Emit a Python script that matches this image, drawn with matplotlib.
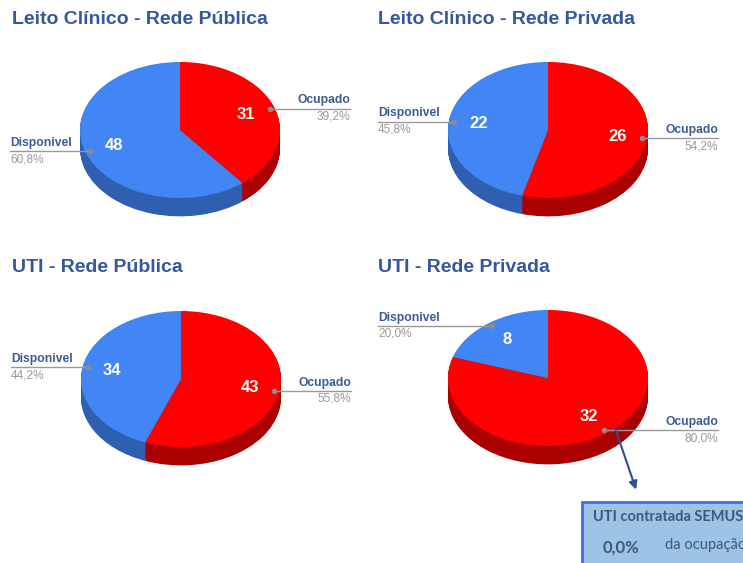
import numpy as np
import matplotlib
matplotlib.use("Agg")
import matplotlib.pyplot as plt
from matplotlib.patches import Rectangle

# data
titles = ["Leito Clínico - Rede Pública", "Leito Clínico - Rede Privada",
          "UTI - Rede Pública", "UTI - Rede Privada"]
categories = ["Ocupado", "Disponivel"]
ocupado = [31, 26, 43, 32]
disponivel = [48, 22, 34, 8]

top_colors = ["#ff0000", "#4285f4"]
side_colors = ["#ab0000", "#2f5fb0"]
title_color = "#3457a0"
label_color = "#3c5a9a"
grey = "#9a9a9a"

W, H = 743, 563
fig = plt.figure(figsize=(W / 100, H / 100), dpi=100)
plt.rcParams["font.family"] = ["Liberation Sans", "DejaVu Sans"]

# pixel centres of the pies, title positions
centres = [(180, 130), (548, 130), (181, 379), (548, 378)]
title_pos = [(12, 20), (378, 20), (12, 268), (378, 268)]
rx, ry = 100, 68
depth = 0.27      # thickness of the side, in y units
xl, yb, yt = 1.8, 1.7, 1.5

axes = []
for i in range(4):
    cx, cy = centres[i]
    ax = fig.add_axes([(cx - xl * rx) / W, (H - (cy + yb * ry)) / H,
                       2 * xl * rx / W, (yb + yt) * ry / H])
    vals = [ocupado[i], disponivel[i]]

    # side of the cylinder: stacked darker pies
    n = 24
    for k in range(n, 0, -1):
        ax.pie(vals, colors=side_colors, startangle=90, counterclock=False,
               center=(0, -depth * k / n), radius=1,
               wedgeprops=dict(linewidth=0))
    wedges, _ = ax.pie(vals, colors=top_colors, startangle=90,
                       counterclock=False, radius=1,
                       wedgeprops=dict(linewidth=0))

    ax.set_aspect("auto")
    ax.set_xlim(-xl, xl)
    ax.set_ylim(-yb, yt)
    ax.axis("off")

    total = sum(vals)
    for j, w in enumerate(wedges):
        mid = np.deg2rad((w.theta1 + w.theta2) / 2)
        c, s = np.cos(mid), np.sin(mid)
        ax.text(0.7 * c, 0.7 * s, str(vals[j]), color="white",
                fontsize=12, fontweight="bold", ha="center", va="center")
        dx, dy = 0.95 * c, 0.95 * s
        end = 1.7 if c > 0 else -1.7
        ax.plot([dx, end], [dy, dy], color=grey, lw=1, clip_on=False)
        ax.plot(dx, dy, "o", color="#8c8c8c", ms=3, clip_on=False)
        ha = "right" if c > 0 else "left"
        pct = f"{100 * vals[j] / total:.1f}".replace(".", ",") + "%"
        ax.annotate(categories[j], (end, dy), xytext=(0, 1.5),
                    textcoords="offset points", ha=ha, va="bottom",
                    fontsize=8.7, fontweight="bold", color=label_color,
                    annotation_clip=False)
        ax.annotate(pct, (end, dy), xytext=(0, -1.5),
                    textcoords="offset points", ha=ha, va="top",
                    fontsize=8.6, color=grey, annotation_clip=False)
    axes.append(ax)

    tx, ty = title_pos[i]
    fig.text(tx / W, 1 - ty / H, titles[i], fontsize=14, fontweight="bold",
             color=title_color, ha="left", va="center")

# arrow from the UTI privada pie to the note box
axes[3].annotate("", xy=(0.89, -1.68), xytext=(0.66, -0.69),
                 arrowprops=dict(arrowstyle="-|>", color="#2f4f8f", lw=1.5,
                                 mutation_scale=12),
                 annotation_clip=False)

# note box
fig.add_artist(Rectangle((582 / W, 1 - 580 / H), 180 / W, 78 / H,
                         transform=fig.transFigure, facecolor="#9dc3e6",
                         edgecolor="#3f6fe0", lw=2))
fig.text(593 / W, 1 - 517 / H, "UTI contratada SEMUS", fontsize=10.5,
         family=["Lato", "DejaVu Sans"], fontweight="bold", color="#3e5878",
         ha="left", va="center")
fig.text(603 / W, 1 - 548 / H, "0,0%", fontsize=12,
         family=["Lato", "DejaVu Sans"], fontweight="bold", color="#3e5878",
         ha="left", va="center")
fig.text(665 / W, 1 - 545 / H, "da ocupação", fontsize=10.5,
         family=["Lato", "DejaVu Sans"], color="#3e5878",
         ha="left", va="center")

fig.savefig("out.png", dpi=100)
